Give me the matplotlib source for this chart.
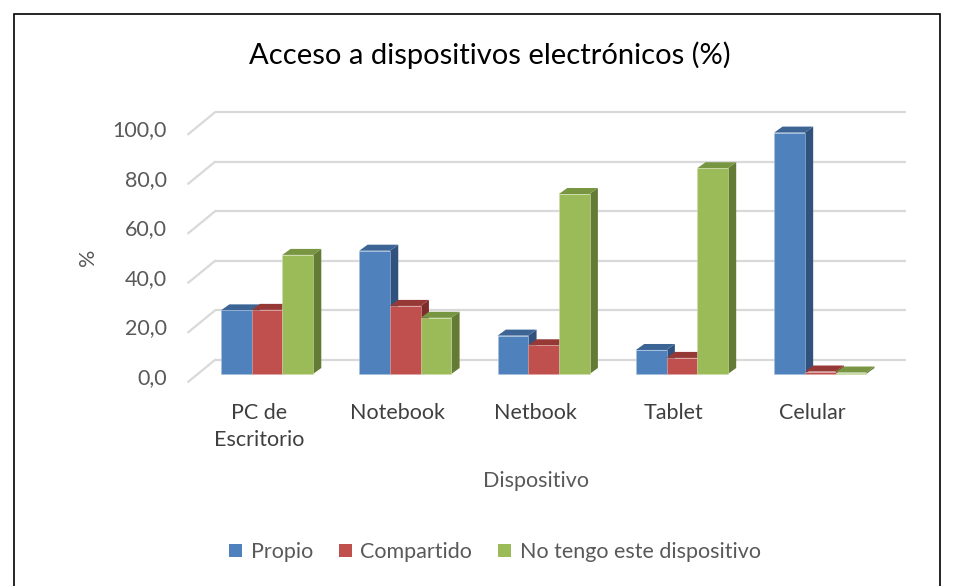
import matplotlib
matplotlib.use("Agg")
import matplotlib.pyplot as plt
from matplotlib.patches import Polygon, Rectangle, Patch
import numpy as np

plt.rcParams['font.family'] = ['Lato', 'DejaVu Sans']

categories = ["PC de\nEscritorio", "Notebook", "Netbook", "Tablet", "Celular"]
series_names = ["Propio", "Compartido", "No tengo este dispositivo"]
propio = [25.7, 49.8, 15.5, 9.7, 97.5]
compartido = [25.9, 27.5, 11.6, 6.5, 1.0]
no_tengo = [48.1, 22.7, 72.7, 83.1, 0.6]
yticks = [0, 20, 40, 60, 80, 100]
ytick_labels = ["0,0", "20,0", "40,0", "60,0", "80,0", "100,0"]

front_colors = ["#4F81BD", "#C0504D", "#9BBB59"]
top_colors = ["#3C6596", "#963835", "#789641"]
side_colors = ["#31527D", "#7D2D2B", "#647B36"]
edge_colors = ["#A7BFDE", "#DCA4A3", "#CDDDAC"]
text_gray = "#595959"
grid_gray = "#D9D9D9"

W, H = 955, 586
fig = plt.figure(figsize=(W / 100, H / 100), dpi=100)

# axes = front plane of the bars (pixel geometry)
ax_l, ax_r = 197.85, 889.35
ax_b_img, ax_t_img = 374.0, 126.4
ax = fig.add_axes([ax_l / W, 1 - ax_b_img / H, (ax_r - ax_l) / W, (ax_b_img - ax_t_img) / H])
ax.set_xlim(-0.5, 4.5)
ax.set_ylim(0, 100)
ax.axis("off")

pxx = (ax_r - ax_l) / 5.0
pxy = (ax_b_img - ax_t_img) / 100.0

def dx(p):
    return p / pxx

def dy(p):
    return p / pxy

back_ox, back_oy = 17.0, 14.0
front_ox, front_oy = -9.5, -7.7
for v, lab in zip(yticks, ytick_labels):
    yb = v + dy(back_oy)
    ax.plot([-0.5 + dx(back_ox), 4.5 + dx(back_ox)], [yb, yb], color=grid_gray,
            lw=1.6, clip_on=False, zorder=1, solid_capstyle="butt")
    ax.plot([-0.5 + dx(front_ox), -0.5 + dx(back_ox)], [v + dy(front_oy), yb],
            color=grid_gray, lw=1.6, clip_on=False, zorder=1)
    ax.text(-0.5 + dx(167 - ax_l), v - dy(4), lab,
            ha="right", va="center", fontsize=15.5, color=text_gray, clip_on=False)

values = [propio, compartido, no_tengo]
bw = 0.2217
bdx, bdy = dx(8.3), dy(6.0)
x = np.arange(len(categories))
z = 2
for i in range(len(categories)):
    for s in range(3):
        xc = x[i] + (s - 1) * bw
        x0, x1 = xc - bw / 2, xc + bw / 2
        v = values[s][i]
        ax.add_patch(Polygon([(x1, 0), (x1 + bdx, bdy), (x1 + bdx, v + bdy), (x1, v)],
                             closed=True, facecolor=side_colors[s], edgecolor="none",
                             zorder=z, clip_on=False))
        ax.add_patch(Polygon([(x0, v), (x1, v), (x1 + bdx, v + bdy), (x0 + bdx, v + bdy)],
                             closed=True, facecolor=top_colors[s], edgecolor="none",
                             zorder=z, clip_on=False))
        ax.bar(xc, v, width=bw, color=front_colors[s], edgecolor=edge_colors[s],
               linewidth=0.4, zorder=z + 0.5, clip_on=False)
        z += 1

for i, c in enumerate(categories):
    ax.text(x[i] + dx(-8), -dy(403 - ax_b_img), c, ha="center", va="top",
            fontsize=15.5, color="#3F3F3F", linespacing=1.42, clip_on=False)

fig.text(535.5 / W, 1 - 481 / H, "Dispositivo", ha="center", va="center",
         fontsize=15.5, color=text_gray)
fig.text(88 / W, 1 - 257 / H, "%", ha="center", va="center", rotation=90,
         fontsize=15.5, color=text_gray)
fig.text(490 / W, 1 - 55 / H, "Acceso a dispositivos electrónicos (%)", ha="center",
         va="center", fontsize=21, color="#000000")

handles = [Patch(facecolor=front_colors[k], edgecolor="none") for k in range(3)]
fig.legend(handles, series_names, loc="center", bbox_to_anchor=(495 / W, 1 - 552 / H),
           ncol=3, frameon=False, fontsize=15.5, handlelength=0.6, handleheight=0.6,
           handletextpad=0.4, columnspacing=1.2, labelcolor=text_gray)

fig.patches.append(Rectangle((14 / W, -0.05), (940 - 14) / W, 1 - 14 / H + 0.05,
                             transform=fig.transFigure, fill=False, edgecolor="black",
                             linewidth=1.2))

fig.savefig("out.png", dpi=100)
